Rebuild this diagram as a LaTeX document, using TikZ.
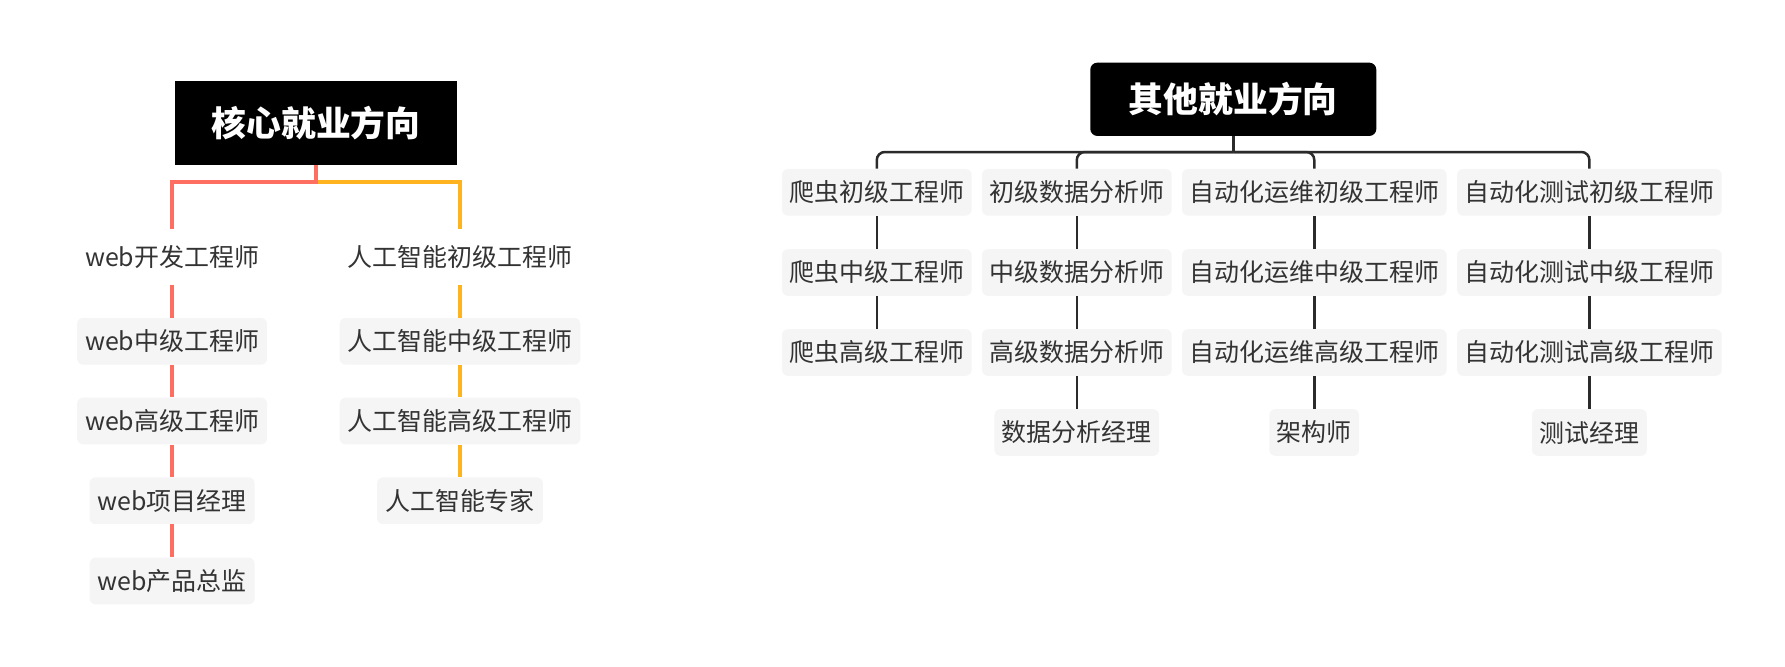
\documentclass[tikz,border=0pt]{standalone}
\usepackage{fontspec}
\setmainfont{Noto Sans CJK SC}
\usepackage{tikz}
\usetikzlibrary{positioning,calc}
\definecolor{salmon}{HTML}{FF6F61}
\definecolor{amber}{HTML}{FFB41F}
\definecolor{ink}{HTML}{333333}
\definecolor{treeline}{HTML}{2B2B2B}
\definecolor{leafgray}{HTML}{F5F5F5}

\begin{document}
\begin{tikzpicture}
    \tikzset{
      rootbox/.style={fill=black,text=white,font=\bfseries\fontsize{19.8}{24}\selectfont,minimum width=5.65cm,minimum height=1.66cm,inner sep=0pt},
      otherbox/.style={rootbox,rounded corners=0.14cm,minimum width=5.72cm,minimum height=1.466cm},
      leaf/.style={fill=leafgray,rounded corners=0.12cm,text=ink,font=\fontsize{14.2}{17}\selectfont,minimum height=0.936cm,inner xsep=0.16cm,inner ysep=0pt},
      topleaf/.style={leaf,fill=none,minimum height=1.09cm},
      oleaf/.style={leaf,minimum height=0.934cm,inner xsep=0.15cm},
      webline/.style={draw=salmon,line width=0.086cm},
      ailine/.style={draw=amber,line width=0.086cm},
      tree/.style={draw=treeline,line width=0.05cm}
    }
    \useasboundingbox (0,0) rectangle (35.7,-13.34);
    % core directions
    \node[rootbox] (core) at (6.324,-2.46) {核心就业方向};
    \coordinate (cjunc) at ($(core.south)+(0,-0.336)$);
    \node[topleaf] (web1) at (3.442,-5.14) {web开发工程师};
    \node[leaf] (web2) at (3.442,-6.826) {web中级工程师};
    \node[leaf] (web3) at (3.442,-8.42) {web高级工程师};
    \node[leaf] (web4) at (3.442,-10.014) {web项目经理};
    \node[leaf] (web5) at (3.442,-11.62) {web产品总监};
    \node[topleaf] (ai1) at (9.2,-5.14) {人工智能初级工程师};
    \node[leaf] (ai2) at (9.2,-6.826) {人工智能中级工程师};
    \node[leaf] (ai3) at (9.2,-8.42) {人工智能高级工程师};
    \node[leaf] (ai4) at (9.2,-10.014) {人工智能专家};
    \draw[ailine] (cjunc) -| (ai1.north);
    \draw[webline] (core.south) -- (cjunc) -| (web1.north);
    \draw[webline] (web1) -- (web2);
    \draw[webline] (web2) -- (web3);
    \draw[webline] (web3) -- (web4);
    \draw[webline] (web4) -- (web5);
    \draw[ailine] (ai1) -- (ai2);
    \draw[ailine] (ai2) -- (ai3);
    \draw[ailine] (ai3) -- (ai4);
    % other directions
    \node[otherbox] (other) at (24.666,-1.986) {其他就业方向};
    \coordinate (ojunc) at ($(other.south)+(0,-0.314)$);
    \node[oleaf] (pc1) at (17.536,-3.846) {爬虫初级工程师};
    \node[oleaf] (pc2) at (17.536,-5.45) {爬虫中级工程师};
    \node[oleaf] (pc3) at (17.536,-7.05) {爬虫高级工程师};
    \node[oleaf] (da1) at (21.536,-3.846) {初级数据分析师};
    \node[oleaf] (da2) at (21.536,-5.45) {中级数据分析师};
    \node[oleaf] (da3) at (21.536,-7.05) {高级数据分析师};
    \node[oleaf] (da4) at (21.536,-8.65) {数据分析经理};
    \node[oleaf] (ops1) at (26.286,-3.846) {自动化运维初级工程师};
    \node[oleaf] (ops2) at (26.286,-5.45) {自动化运维中级工程师};
    \node[oleaf] (ops3) at (26.286,-7.05) {自动化运维高级工程师};
    \node[oleaf] (ops4) at (26.286,-8.65) {架构师};
    \node[oleaf] (qa1) at (31.788,-3.846) {自动化测试初级工程师};
    \node[oleaf] (qa2) at (31.788,-5.45) {自动化测试中级工程师};
    \node[oleaf] (qa3) at (31.788,-7.05) {自动化测试高级工程师};
    \node[oleaf] (qa4) at (31.788,-8.65) {测试经理};
    \draw[tree] (other.south) -- (ojunc);
    \foreach \col in {pc1,da1,ops1,qa1}
      \draw[tree,rounded corners=0.16cm] (ojunc) -| (\col.north);
    \draw[tree] (pc1) -- (pc2);
    \draw[tree] (pc2) -- (pc3);
    \draw[tree] (da1) -- (da2);
    \draw[tree] (da2) -- (da3);
    \draw[tree] (da3) -- (da4);
    \draw[tree] (ops1) -- (ops2);
    \draw[tree] (ops2) -- (ops3);
    \draw[tree] (ops3) -- (ops4);
    \draw[tree] (qa1) -- (qa2);
    \draw[tree] (qa2) -- (qa3);
    \draw[tree] (qa3) -- (qa4);
  \end{tikzpicture}
\end{document}
